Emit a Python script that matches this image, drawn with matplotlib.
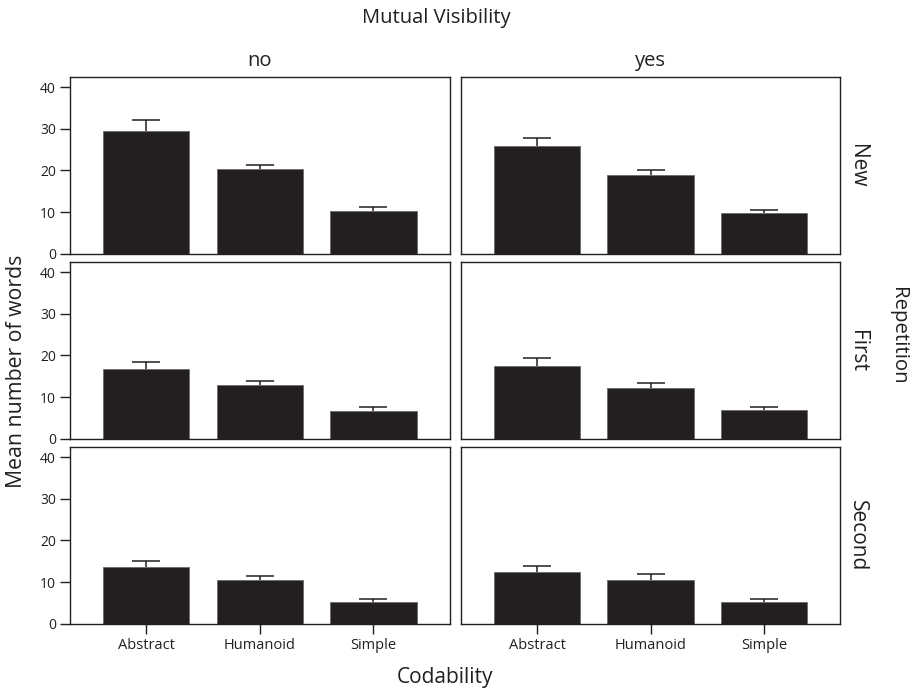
import numpy as np
import matplotlib.pyplot as plt

plt.rcParams['font.family'] = ['Open Sans', 'DejaVu Sans']

codability = ['Abstract', 'Humanoid', 'Simple']
visibility = ['no', 'yes']
repetition = ['New', 'First', 'Second']

# mean number of words, [repetition][visibility][codability]
means = {
    'New':    {'no': [29.6, 20.3, 10.3], 'yes': [26.0, 19.0, 9.7]},
    'First':  {'no': [16.8, 12.8, 6.7],  'yes': [17.5, 12.1, 6.9]},
    'Second': {'no': [13.6, 10.5, 5.2],  'yes': [12.4, 10.5, 5.2]},
}
# upper error (standard error)
errs = {
    'New':    {'no': [2.6, 1.0, 1.0], 'yes': [1.7, 1.2, 0.9]},
    'First':  {'no': [1.7, 1.0, 1.0], 'yes': [2.0, 1.4, 0.8]},
    'Second': {'no': [1.5, 0.9, 0.7], 'yes': [1.5, 1.5, 0.8]},
}

W, H = 914, 693
fig = plt.figure(figsize=(W / 100, H / 100), dpi=100)
ink = '#231f20'

col_x = [(70, 449.5), (461, 840)]
row_y = [(77.3, 253.7), (262.3, 438.7), (447.3, 623.7)]
x = np.arange(len(codability))

for i, rep in enumerate(repetition):
    for j, vis in enumerate(visibility):
        x0, x1 = col_x[j]
        y0, y1 = row_y[i]
        ax = fig.add_axes([x0 / W, 1 - y1 / H, (x1 - x0) / W, (y1 - y0) / H])
        m = means[rep][vis]
        e = errs[rep][vis]
        ax.bar(x, m, width=0.76, color=ink, edgecolor='#6b6b6b', linewidth=0.6, zorder=2)
        eb = ax.errorbar(x, m, yerr=[np.zeros(3), e], fmt='none', ecolor=ink,
                         elinewidth=1.1, capsize=10, capthick=1.1, zorder=1)
        # only the upper whisker gets a cap
        eb[1][0].set_visible(False)
        ax.set_xlim(-0.67, 2.67)
        ax.set_ylim(0, 42.4)
        for s in ax.spines.values():
            s.set_linewidth(1.0)
            s.set_color(ink)
        ax.tick_params(direction='out', length=7, width=1.0, color=ink,
                       labelcolor=ink, pad=3)
        ax.set_yticks([0, 10, 20, 30, 40])
        ax.set_xticks(x)
        if j == 0:
            ax.tick_params(axis='y', labelsize=10)
        else:
            ax.tick_params(axis='y', left=False, labelleft=False)
        if i == 2:
            ax.set_xticklabels(codability, fontsize=10.5)
        else:
            ax.tick_params(axis='x', bottom=False, labelbottom=False)
        if i == 0:
            ax.set_title(vis, fontsize=14.5, color=ink, pad=8)
        if j == 1:
            ax.text(1.045, 0.5, rep, transform=ax.transAxes, rotation=-90,
                    ha='center', va='center', fontsize=15, color=ink)

fig.text(436 / W, 1 - 18 / H, 'Mutual Visibility', ha='center', va='center',
         fontsize=14.5, color=ink)
fig.text(445 / W, 1 - 678 / H, 'Codability', ha='center', va='center',
         fontsize=15, color=ink)
fig.text(17 / W, 1 - 371 / H, 'Mean number of words', ha='center', va='center',
         rotation=90, fontsize=15.3, color=ink)
fig.text(898 / W, 1 - 336 / H, 'Repetition', ha='center', va='center',
         rotation=-90, fontsize=14.7, color=ink)

fig.savefig('out.png', dpi=100)
